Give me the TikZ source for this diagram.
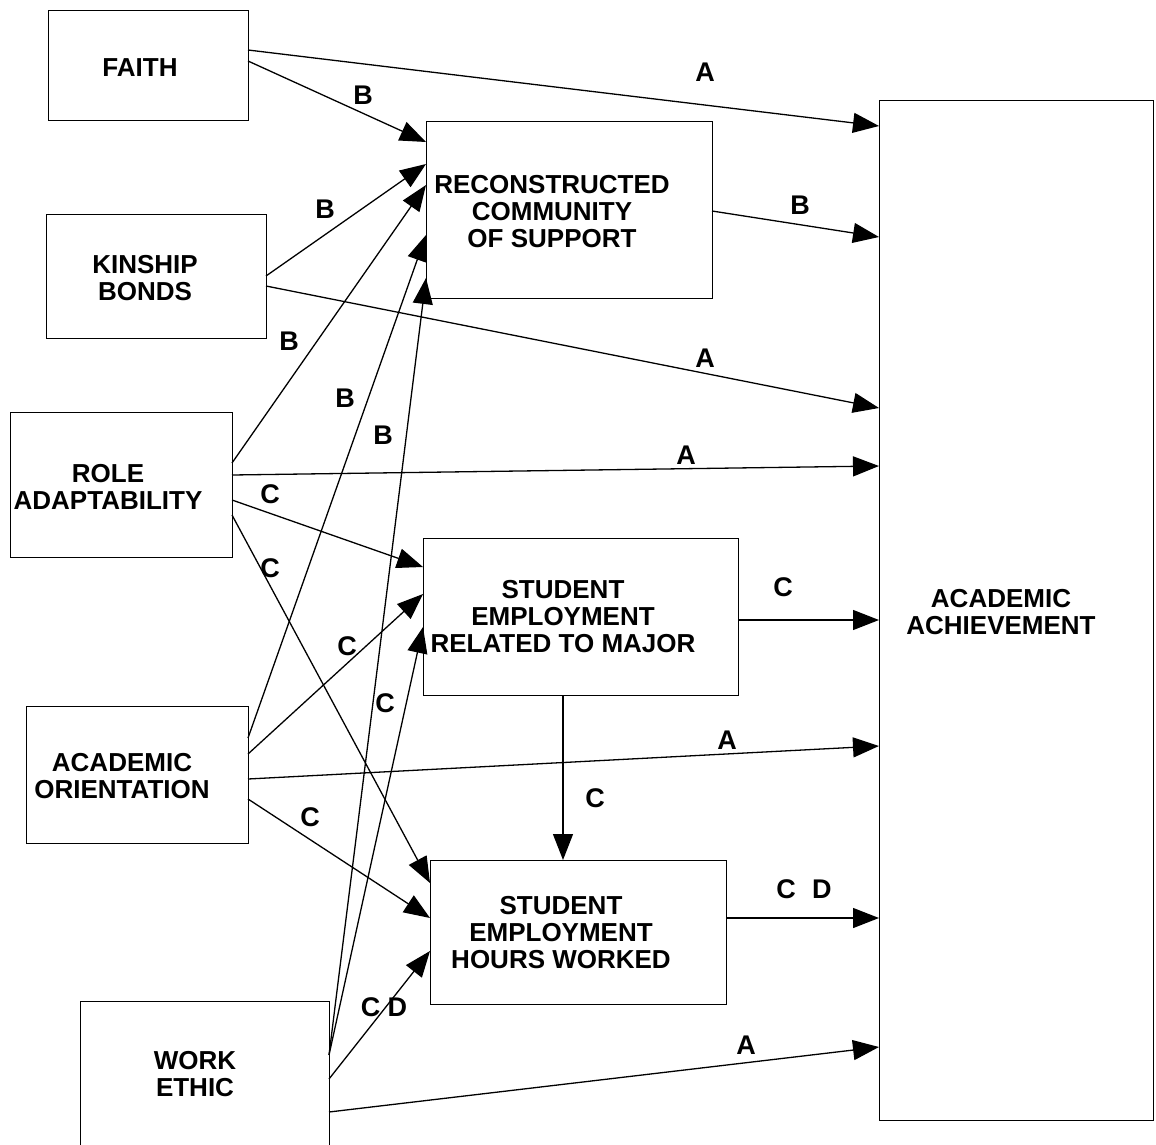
\documentclass[tikz,border=0pt]{standalone}
\usepackage{fontspec}
\setmainfont{Liberation Sans}
\usetikzlibrary{arrows.meta}
\begin{document}
\begin{tikzpicture}[x=1pt,y=-1pt,
  box/.style={draw, line width=1pt, rectangle, inner sep=0pt, outer sep=0pt},
  txt/.style={align=center, inner sep=0pt, font=\fontsize{26pt}{27pt}\selectfont\bfseries},
  lab/.style={inner sep=0pt, font=\fontsize{27pt}{27pt}\selectfont\bfseries},
  link/.style={line width=1.3pt, -{Triangle[length=26pt,width=20pt]}},
]
\useasboundingbox (0,0) rectangle (1156,1145);
\clip (0,0) rectangle (1156,1145);

% boxes
\node[box, minimum width=200pt, minimum height=110pt] (faith) at (148,66) {};
\node[box, minimum width=220pt, minimum height=124pt] (kin)   at (156,276) {};
\node[box, minimum width=222pt, minimum height=145pt] (role)  at (121,484.5) {};
\node[box, minimum width=222pt, minimum height=137pt] (ao)    at (137,774.5) {};
\node[box, minimum width=249pt, minimum height=164pt] (we)    at (204.5,1083) {};
\node[box, minimum width=286pt, minimum height=176pt] (rcs)   at (569,210) {};
\node[box, minimum width=315pt, minimum height=157pt] (serm)  at (580.5,616.5) {};
\node[box, minimum width=296pt, minimum height=144pt] (sehw)  at (578,932) {};
\node[box, minimum width=274pt, minimum height=1019pt] (ach)  at (1016,610.5) {};

% box texts
\node[txt] (faithT) at (140,68)  {FAITH};
\node[txt] (kinT)   at (145,278) {KINSHIP\\BONDS};
\node[txt] (roleT)  at (108,487) {ROLE\\ADAPTABILITY};
\node[txt] (aoT)    at (122,776) {ACADEMIC\\ORIENTATION};
\node[txt] (weT)    at (195,1074) {WORK\\ETHIC};
\node[txt] (rcsT)   at (552,212) {RECONSTRUCTED\\COMMUNITY\\OF SUPPORT};
\node[txt] (sermT)  at (563,617) {STUDENT\\EMPLOYMENT\\RELATED TO MAJOR};
\node[txt] (sehwT)  at (561,933) {STUDENT\\EMPLOYMENT\\HOURS WORKED};
\node[txt] (achT)   at (1001,612) {ACADEMIC\\ACHIEVEMENT};

% paths from FAITH
\draw[link] (faith.east |- 0,50) -- (ach.west |- 0,126);
\draw[link] (faith.east |- 0,61) -- (rcs.west |- 0,142);
% paths from KINSHIP BONDS
\draw[link] (kin.east |- 0,276) -- (rcs.west |- 0,164);
\draw[link] (kin.east |- 0,286) -- (ach.west |- 0,408);
% paths from ROLE ADAPTABILITY
\draw[link] (role.east |- 0,463) -- (rcs.west |- 0,185);
\draw[link] (role.east |- 0,475) -- (ach.west |- 0,466);
\draw[link] (role.east |- 0,500) -- (serm.west |- 0,567);
\draw[link] (role.east |- 0,515) -- (sehw.west |- 0,883);
% paths from ACADEMIC ORIENTATION
\draw[link] (ao.east |- 0,738) -- (rcs.west |- 0,235);
\draw[link] (ao.east |- 0,754) -- (serm.west |- 0,594);
\draw[link] (ao.east |- 0,779) -- (ach.west |- 0,746);
\draw[link] (ao.east |- 0,799) -- (sehw.west |- 0,918);
% paths from WORK ETHIC
\draw[link] (we.east |- 0,1055) -- (rcs.west |- 0,278);
\draw[link] (we.east |- 0,1055) -- (serm.west |- 0,627);
\draw[link] (we.east |- 0,1079) -- (sehw.west |- 0,951);
\draw[link] (we.east |- 0,1112) -- (ach.west |- 0,1047);
% mediating paths
\draw[link] (rcs.east |- 0,211) -- (ach.west |- 0,237);
\draw[link] (serm.east |- 0,620) -- (ach.west |- 0,620);
\draw[link] (563,0 |- serm.south) -- (563,0 |- sehw.north);
\draw[link] (sehw.east |- 0,918) -- (ach.west |- 0,918);

% path labels
\node[lab] (l1)  at (705,72)   {A};
\node[lab] (l2)  at (363,95)   {B};
\node[lab] (l3)  at (325,209)  {B};
\node[lab] (l4)  at (705,358)  {A};
\node[lab] (l5)  at (289,341)  {B};
\node[lab] (l6)  at (686,455)  {A};
\node[lab] (l7)  at (270,494)  {C};
\node[lab] (l8)  at (270,568)  {C};
\node[lab] (l9)  at (345,398)  {B};
\node[lab] (l10) at (347,646)  {C};
\node[lab] (l11) at (727,740)  {A};
\node[lab] (l12) at (310,817)  {C};
\node[lab] (l13) at (383,435)  {B};
\node[lab] (l14) at (385,703)  {C};
\node[lab] (l15) at (384,1007) {C D};
\node[lab] (l16) at (746,1045) {A};
\node[lab] (l17) at (800,205)  {B};
\node[lab] (l18) at (783,587)  {C};
\node[lab] (l19) at (595,798)  {C};
\node[lab] (l20) at (804,889)  {C\hspace{0.6em}D};
\end{tikzpicture}
\end{document}
